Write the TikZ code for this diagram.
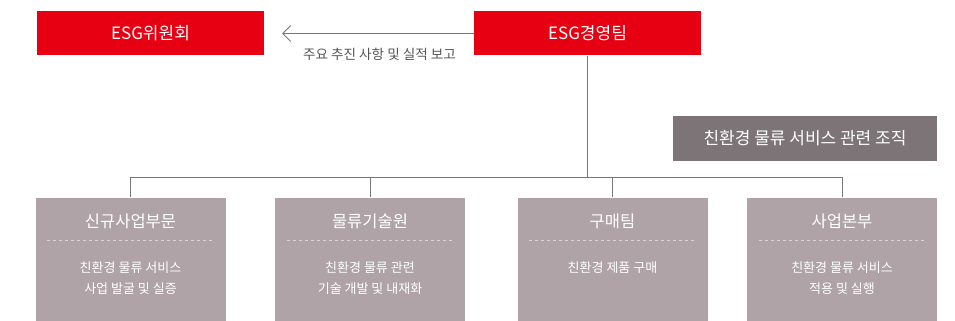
\documentclass[tikz,border=0pt]{standalone}
\usepackage{fontspec}
\setmainfont{Noto Sans CJK KR}
\usetikzlibrary{arrows.meta}
\definecolor{esgred}{HTML}{E60012}
\definecolor{taggray}{HTML}{7D7478}
\definecolor{unitgray}{HTML}{AFA3A8}
\definecolor{linegray}{HTML}{777777}
\definecolor{labelgray}{HTML}{555555}
\definecolor{dashgray}{HTML}{DCD4D7}
\begin{document}
\begin{tikzpicture}[x=1pt,y=-1pt,
  redbox/.style={fill=esgred, minimum width=227pt, minimum height=44pt, inner sep=0pt, text=white, font=\fontsize{17}{20}\selectfont},
  tagbox/.style={fill=taggray, minimum width=264pt, minimum height=45pt, inner sep=0pt, text=white, font=\fontsize{17}{20}\selectfont},
  unitbox/.style={fill=unitgray, minimum width=190pt, minimum height=124pt, inner sep=0pt},
  unittitle/.style={text=white, font=\fontsize{16.5}{20}\selectfont, inner sep=0pt},
  unitdesc/.style={text=white, font=\fontsize{13}{21}\selectfont, align=center, inner sep=0pt, anchor=north},
  divider/.style={draw=dashgray, line width=0.8pt, dash pattern=on 3pt off 3pt},
  conn/.style={draw=linegray, line width=1pt},
  arrowlabel/.style={text=labelgray, font=\fontsize{13.6}{16}\selectfont, inner sep=0pt}
]
\useasboundingbox (0,0) rectangle (955,321);

\node[redbox] (com) at (150.5,33.5) {ESG위원회};
\node[redbox] (team) at (587.5,33.5) {ESG경영팀};
\coordinate (arrowend) at (282,33.5);
\draw[conn, -{Straight Barb[length=8pt,width=16pt]}] (team.west) -- (arrowend);
\node[arrowlabel] (lbl) at (379.5,54) {주요 추진 사항 및 실적 보고};

\node[tagbox] (tag) at (805,138.5) {친환경 물류 서비스 관련 조직};

\node[unitbox] (b1) at (130.5,259.5) {};
\node[unitbox] (b2) at (370,259.5) {};
\node[unitbox] (b3) at (612.5,259.5) {};
\node[unitbox] (b4) at (842,259.5) {};

\coordinate (bus) at (587.5,177.5);
\draw[conn] (team.south) -- (bus);
\draw[conn] (b1.north) -- (b1.north |- bus) -- (b4.north |- bus) -- (b4.north);
\draw[conn] (b2.north) -- (b2.north |- bus);
\draw[conn] (b3.north) -- (b3.north |- bus);

\foreach \b/\t in {b1/신규사업부문, b2/물류기술원, b3/구매팀, b4/사업본부}{
  \node[unittitle] (\b t) at ([yshift=-24.5pt]\b.north) {\t};
  \draw[divider] ([xshift=12pt,yshift=-43.5pt]\b.north west) -- ([xshift=-12pt,yshift=-43.5pt]\b.north east);
}
\node[unitdesc] (b1d) at ([yshift=-64pt]b1.north) {친환경 물류 서비스\\사업 발굴 및 실증};
\node[unitdesc] (b2d) at ([yshift=-64pt]b2.north) {친환경 물류 관련\\기술 개발 및 내재화};
\node[unitdesc] (b3d) at ([yshift=-64pt]b3.north) {친환경 제품 구매};
\node[unitdesc] (b4d) at ([yshift=-64pt]b4.north) {친환경 물류 서비스\\적용 및 실행};
\end{tikzpicture}
\end{document}
